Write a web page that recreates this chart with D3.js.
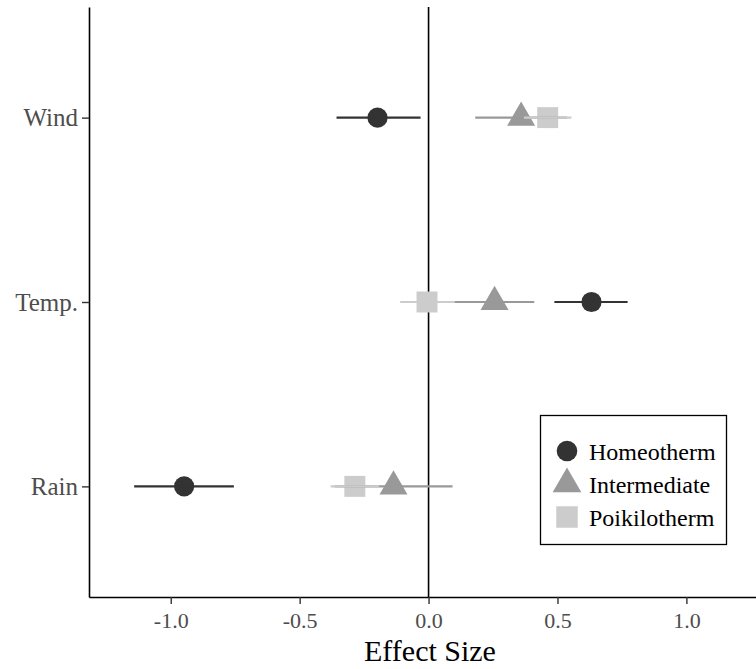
<!DOCTYPE html>
<html>
<head>
<meta charset="utf-8">
<script src="https://cdn.jsdelivr.net/npm/d3@7"></script>
<style>
  html, body { margin: 0; padding: 0; background: #fff; }
  svg { display: block; font-family: "Liberation Serif", "Times New Roman", serif; }
</style>
</head>
<body>
<svg id="chart" width="756" height="669"></svg>
<script>
// Predictors (bottom to top) and thermal groups
const predictors = ["Rain", "Temp.", "Wind"];
const groups = ["Homeotherm", "Intermediate", "Poikilotherm"];

// Effect size estimates and interval bounds, one array per group, ordered as predictors
const homeoEst   = [-0.948, 0.632, -0.198];
const homeoLow   = [-1.142, 0.488, -0.357];
const homeoHigh  = [-0.755, 0.772, -0.031];

const interEst   = [-0.136, 0.256, 0.359];
const interLow   = [-0.365, 0.100, 0.181];
const interHigh  = [ 0.093, 0.410, 0.537];

const poikiEst   = [-0.286, -0.006, 0.462];
const poikiLow   = [-0.380, -0.110, 0.370];
const poikiHigh  = [-0.192,  0.100, 0.554];

const xTicks = [-1.0, -0.5, 0.0, 0.5, 1.0];
const xTickLabels = ["-1.0", "-0.5", "0.0", "0.5", "1.0"];

const groupColors = ["#333333", "#999999", "#cccccc"];
const groupShapes = [d3.symbolCircle, d3.symbolTriangle, d3.symbolSquare];
const groupSizes  = [320, 340, 440];

const estimates = [homeoEst, interEst, poikiEst];
const lows = [homeoLow, interLow, poikiLow];
const highs = [homeoHigh, interHigh, poikiHigh];

const rows = [];
groups.forEach((g, gi) => {
  predictors.forEach((p, pi) => {
    rows.push({ group: g, gi, predictor: p,
                est: estimates[gi][pi], low: lows[gi][pi], high: highs[gi][pi] });
  });
});

const svg = d3.select("#chart");
const panelLeft = 89, panelRight = 756, panelTop = 7, panelBottom = 597;

const x = d3.scaleLinear().domain([-1.317, 1.27]).range([panelLeft, panelRight]);
const y = d3.scalePoint().domain(predictors).range([panelBottom, panelTop]).padding(0.6);

// Axes
const xAxis = d3.axisBottom(x)
  .tickValues(xTicks)
  .tickFormat((d, i) => xTickLabels[i])
  .tickSize(7).tickSizeOuter(0).tickPadding(4);
const gx = svg.append("g").attr("transform", `translate(0,${panelBottom})`).call(xAxis);
gx.select(".domain").attr("stroke", "#000").attr("stroke-width", 1.6);
gx.selectAll(".tick line").attr("stroke", "#333").attr("stroke-width", 1.4);
gx.selectAll(".tick text")
  .attr("font-family", "Liberation Serif, serif")
  .attr("font-size", 22).attr("fill", "#4d4d4d")
  .attr("dy", null).attr("y", 31);

const yAxis = d3.axisLeft(y).tickSize(7).tickSizeOuter(0).tickPadding(4);
const gy = svg.append("g").attr("transform", `translate(${panelLeft},0)`).call(yAxis);
gy.select(".domain").attr("stroke", "#000").attr("stroke-width", 1.6);
gy.selectAll(".tick line").attr("stroke", "#333").attr("stroke-width", 1.4);
gy.selectAll(".tick text")
  .attr("font-family", "Liberation Serif, serif")
  .attr("font-size", 25).attr("fill", "#4d4d4d");

// Reference line at zero effect
svg.append("line")
  .attr("x1", x(0)).attr("x2", x(0))
  .attr("y1", panelTop).attr("y2", panelBottom)
  .attr("stroke", "#000").attr("stroke-width", 1.6);

// Points
svg.append("g").selectAll("path")
  .data(rows)
  .join("path")
  .attr("transform", d => `translate(${x(d.est)},${y(d.predictor)})`)
  .attr("d", d => d3.symbol().type(groupShapes[d.gi]).size(groupSizes[d.gi])())
  .attr("fill", d => groupColors[d.gi]);

// Confidence intervals
svg.append("g").selectAll("line")
  .data(rows)
  .join("line")
  .attr("x1", d => x(d.low)).attr("x2", d => x(d.high))
  .attr("y1", d => y(d.predictor)).attr("y2", d => y(d.predictor))
  .attr("stroke", d => groupColors[d.gi])
  .attr("stroke-width", 2.2);

// X axis title
svg.append("text")
  .attr("x", 430).attr("y", 661)
  .attr("text-anchor", "middle")
  .attr("font-size", 30).attr("fill", "#000")
  .text("Effect Size");

// Legend
const legend = svg.append("g");
legend.append("rect")
  .attr("x", 540.5).attr("y", 415.5).attr("width", 186).attr("height", 129)
  .attr("fill", "#fff").attr("stroke", "#000").attr("stroke-width", 1.3);

const legendRows = legend.selectAll("g.item")
  .data(groups)
  .join("g")
  .attr("class", "item")
  .attr("transform", (d, i) => `translate(0,${451 + i * 33})`);

legendRows.append("path")
  .attr("transform", "translate(567,0)")
  .attr("d", (d, i) => d3.symbol().type(groupShapes[i]).size(groupSizes[i] * 1.05)())
  .attr("fill", (d, i) => groupColors[i]);

legendRows.append("text")
  .attr("x", 589).attr("y", 8.5)
  .attr("font-size", 24).attr("fill", "#000")
  .text(d => d);
</script>
</body>
</html>
